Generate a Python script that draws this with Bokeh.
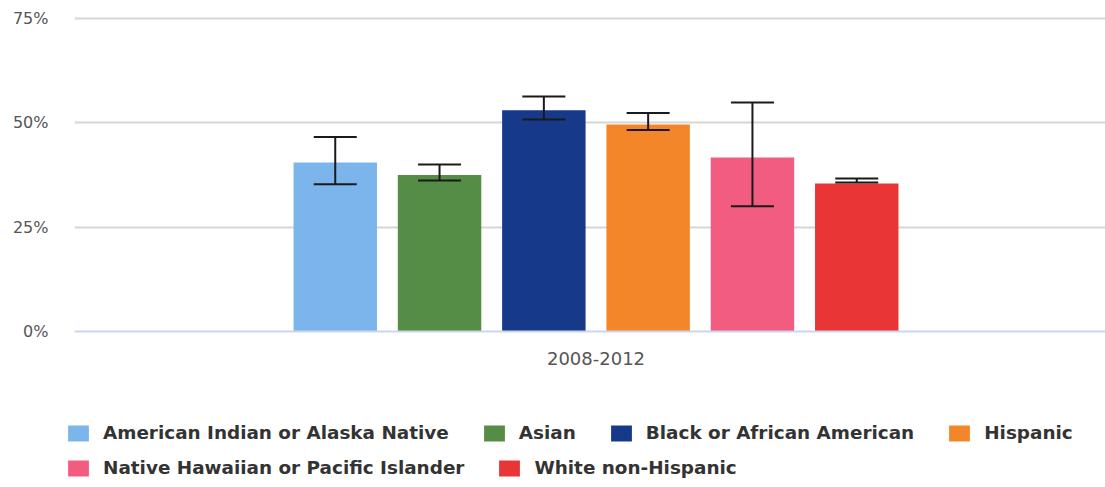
from bokeh.plotting import figure
from bokeh.models import (ColumnDataSource, Range1d, FixedTicker, PrintfTickFormatter,
                          Legend, LegendItem, Whisker, TeeHead)
from bokeh.embed import file_html
from bokeh.resources import INLINE

period = "2008-2012"
groups = ["American Indian or Alaska Native", "Asian", "Black or African American",
          "Hispanic", "Native Hawaiian or Pacific Islander", "White non-Hispanic"]
values = [40.5, 37.5, 53.0, 49.6, 41.7, 35.5]
lower = [35.3, 36.2, 50.8, 48.3, 30.0, 35.7]
upper = [46.6, 40.0, 56.3, 52.4, 54.9, 36.7]
colors = ["#7cb5ec", "#558c46", "#16398a", "#f4862a", "#f15c80", "#e93535"]
y_ticks = [0, 25, 50, 75]

n = len(groups)
slot = 0.6 / n          # group padding 0.2 on each side of the category
bar_w = slot * 0.8
xs = [(i - (n - 1) / 2) * slot for i in range(n)]

p = figure(frame_width=1031, frame_height=315, output_backend="svg", toolbar_location=None,
           x_range=Range1d(-0.5, 0.4885), y_range=Range1d(0, 75.5),
           min_border_left=74, min_border_top=16, min_border_right=0, min_border_bottom=69)
p.outline_line_color = None
p.background_fill_color = "white"

for i in range(n):
    src = ColumnDataSource(dict(x=[xs[i]], top=[values[i]]))
    p.vbar(x="x", top="top", bottom=0, width=bar_w, source=src,
           fill_color=colors[i], line_color=None)

err = ColumnDataSource(dict(base=xs, lower=lower, upper=upper))
w = Whisker(source=err, base="base", lower="lower", upper="upper", level="annotation",
            line_color="#1a1a1a", line_width=2,
            upper_head=TeeHead(size=43, line_color="#1a1a1a", line_width=2),
            lower_head=TeeHead(size=43, line_color="#1a1a1a", line_width=2))
p.add_layout(w)

# axes
p.xaxis.ticker = FixedTicker(ticks=[0])
p.xaxis.major_label_overrides = {0: period}
p.xaxis.axis_line_color = "#ccd6eb"
p.xaxis.axis_line_width = 2
p.xaxis.major_tick_line_color = None
p.xaxis.minor_tick_line_color = None
p.xaxis.major_label_text_font = "DejaVu Sans"
p.xaxis.major_label_text_font_size = "18px"
p.xaxis.major_label_text_color = "#555555"
p.xaxis.major_label_standoff = 14

p.yaxis.ticker = FixedTicker(ticks=y_ticks)
p.yaxis.formatter = PrintfTickFormatter(format="%d%%")
p.yaxis.axis_line_color = None
p.yaxis.major_tick_line_color = None
p.yaxis.minor_tick_line_color = None
p.yaxis.major_tick_out = 0
p.yaxis.major_label_text_font = "DejaVu Sans"
p.yaxis.major_label_text_font_size = "16px"
p.yaxis.major_label_text_color = "#555555"
p.yaxis.major_label_standoff = 26

p.xgrid.grid_line_color = None
p.ygrid.grid_line_color = "#d6d6d6"
p.ygrid.grid_line_width = 2

# legend figure below the chart (separate root, so its frame is not aligned to the chart's)
lf = figure(width=1105, height=87, output_backend="svg", toolbar_location=None,
            x_range=Range1d(0, 1), y_range=Range1d(0, 1),
            min_border=0, x_axis_location=None, y_axis_location=None)
lf.outline_line_color = None
lf.grid.grid_line_color = None
leg_r = []
for i in range(n):
    leg_r.append(lf.vbar(x=[5], top=[1], bottom=0, width=0.1,
                         fill_color=colors[i], line_color=None))

def make_legend(idx, loc):
    return Legend(items=[LegendItem(label=groups[i], renderers=[leg_r[i]]) for i in idx],
                  orientation="horizontal", location=loc,
                  glyph_width=26, glyph_height=20, label_standoff=12, spacing=32,
                  padding=0, margin=0, label_height=20,
                  label_text_font="DejaVu Sans", label_text_font_size="18.4px",
                  label_text_font_style="bold", label_text_color="#333333",
                  border_line_color=None, background_fill_alpha=0)

lf.add_layout(make_legend([0, 1, 2, 3], (65, 44)), "center")
lf.add_layout(make_legend([4, 5], (65, 9)), "center")

open("out.html", "w").write(file_html([p, lf], INLINE))
